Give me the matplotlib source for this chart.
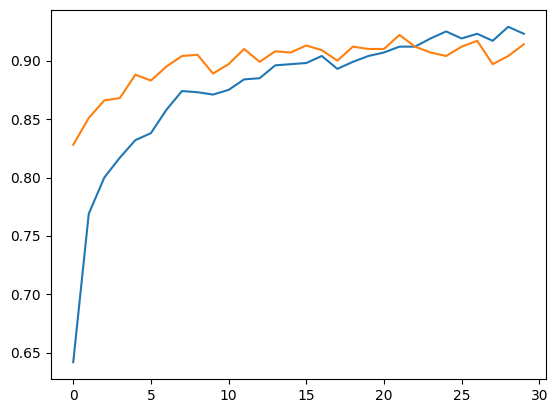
import matplotlib
matplotlib.use("Agg")
import matplotlib.pyplot as plt

epochs = list(range(30))
blue = [0.642, 0.769, 0.800, 0.817, 0.832, 0.838, 0.858, 0.874, 0.873, 0.871,
        0.875, 0.884, 0.885, 0.896, 0.897, 0.898, 0.904, 0.893, 0.899, 0.904,
        0.907, 0.912, 0.912, 0.919, 0.925, 0.919, 0.923, 0.917, 0.929, 0.923]
orange = [0.828, 0.851, 0.866, 0.868, 0.888, 0.883, 0.895, 0.904, 0.905, 0.889,
          0.897, 0.910, 0.899, 0.908, 0.907, 0.913, 0.909, 0.900, 0.912, 0.910,
          0.910, 0.922, 0.912, 0.907, 0.904, 0.912, 0.917, 0.897, 0.904, 0.914]

W, H = 558, 413
fig = plt.figure(figsize=(W / 100, H / 100), dpi=100)
l, r, t, b = 50.7, 546.3, 10, 379
ax = fig.add_axes([l / W, (H - b) / H, (r - l) / W, (b - t) / H])
ax.plot(epochs, blue)
ax.plot(epochs, orange)
fig.savefig("out.png", dpi=100)
